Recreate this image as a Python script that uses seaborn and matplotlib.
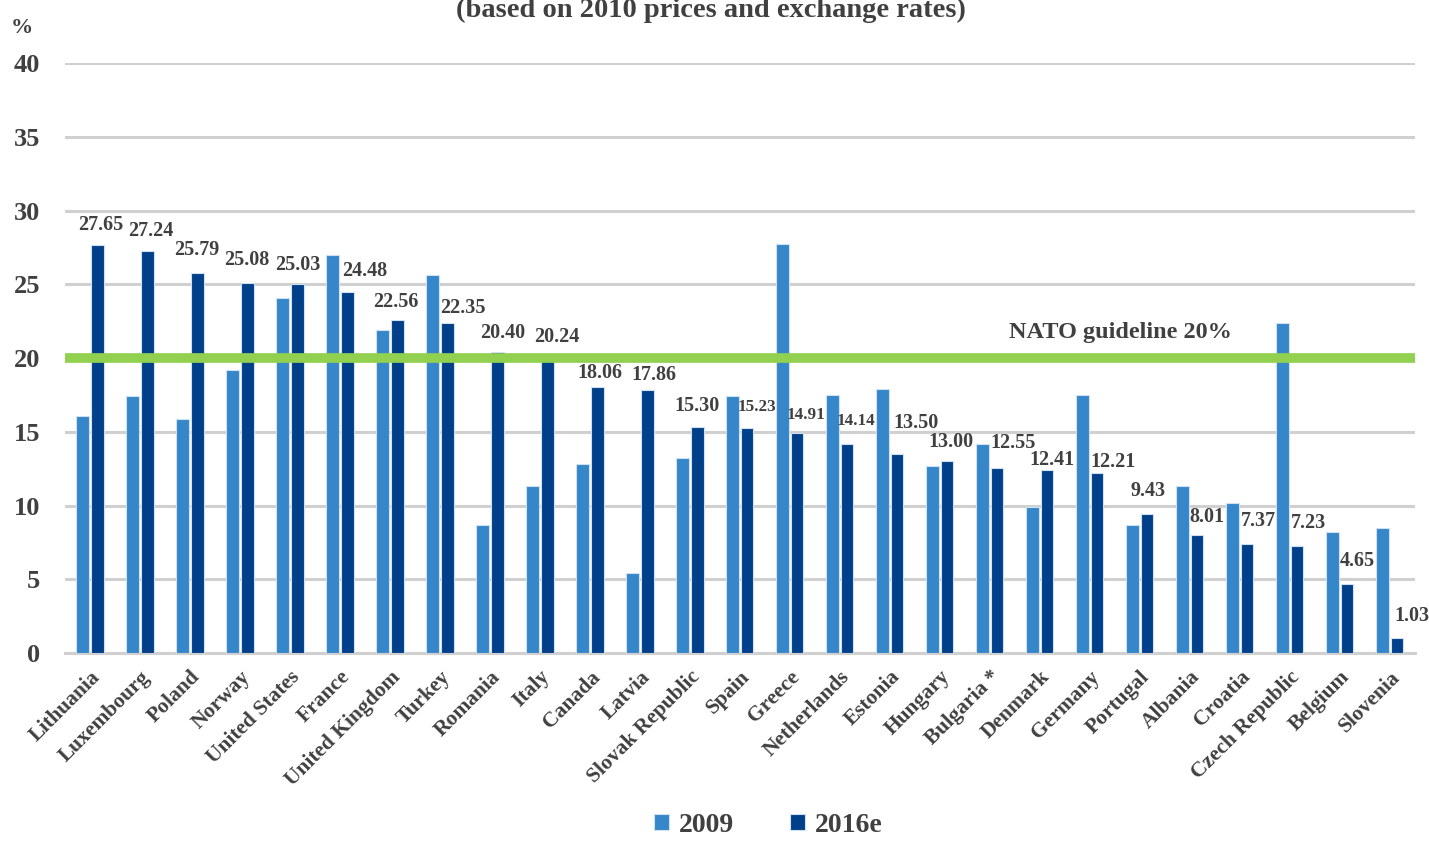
import pandas as pd
import matplotlib
matplotlib.use("Agg")
import matplotlib.pyplot as plt
import seaborn as sns

# data
countries = ["Lithuania", "Luxembourg", "Poland", "Norway", "United States", "France",
             "United Kingdom", "Turkey", "Romania", "Italy", "Canada", "Latvia",
             "Slovak Republic", "Spain", "Greece", "Netherlands", "Estonia", "Hungary",
             "Bulgaria *", "Denmark", "Germany", "Portugal", "Albania", "Croatia",
             "Czech Republic", "Belgium", "Slovenia"]
vals_2009 = [16.1, 17.4, 15.9, 19.2, 24.1, 27.0, 21.9, 25.6, 8.7, 11.3, 12.8, 5.4,
             13.2, 17.4, 27.7, 17.5, 17.9, 12.7, 14.2, 9.9, 17.5, 8.7, 11.3, 10.2,
             22.4, 8.2, 8.5]
vals_2016 = [27.65, 27.24, 25.79, 25.08, 25.03, 24.48, 22.56, 22.35, 20.40, 20.24,
             18.06, 17.86, 15.30, 15.23, 14.91, 14.14, 13.50, 13.00, 12.55, 12.41,
             12.21, 9.43, 8.01, 7.37, 7.23, 4.65, 1.03]
series = ["2009", "2016e"]
guideline = 20

# value label nudges (pixels) as laid out in the original: right shift, height above bar
label_dx = [3, 3, 0, 0, 1, 17, -1, 16, 6, 10, 3, 7, 0, 10, 9, 9, 19, 4, 16, 5, 16,
            1, 10, 11, 12, 10, 15]
label_dy = [20, 20, 23, 23, 19, 21, 18, 15, 19, 18, 14, 15, 21, 21, 18, 23, 31, 19,
            25, 10, 11, 23, 18, 23, 23, 23, 22]

df = pd.DataFrame({
    "country": countries * 2,
    "value": vals_2009 + vals_2016,
    "year": [series[0]] * len(countries) + [series[1]] * len(countries),
})

txt = "#404040"
light = "#3587CA"
dark = "#003F8A"

sns.set_style("white")
plt.rcParams["font.family"] = ["Liberation Serif", "DejaVu Serif"]
plt.rcParams["font.weight"] = "bold"

fig = plt.figure(figsize=(14.29, 8.41), dpi=100)
ax = fig.add_axes([0.0455, 0.2235, 0.9445, 0.7015])

sns.barplot(data=df, x="country", y="value", hue="year", palette=[light, dark],
            saturation=1, width=0.58, gap=0.12, edgecolor="#cfe0f0", linewidth=0.8,
            ax=ax, zorder=3)

ax.set_ylim(0, 40)
ax.set_xlim(-0.5, len(countries) - 0.5)
ax.set_yticks(range(0, 41, 5))
ax.yaxis.grid(True, color="#d0d0d0", linewidth=2.2, zorder=0)
ax.set_axisbelow(True)
for s in ["top", "right", "left"]:
    ax.spines[s].set_visible(False)
ax.spines["bottom"].set_color("#d0d0d0")
ax.spines["bottom"].set_linewidth(2.2)
ax.tick_params(axis="y", length=0, pad=18, labelsize=19, labelcolor=txt)
ax.tick_params(axis="x", length=0, pad=10, labelsize=15.5, labelcolor=txt)
for lbl in ax.get_yticklabels():
    lbl.set_fontweight("bold")
ax.set_xticks(range(len(countries)))
ax.set_xticklabels(countries, rotation=45, ha="right", rotation_mode="anchor",
                   fontweight="bold")
ax.set_xlabel("")
ax.set_ylabel("")

# NATO guideline
ax.axhline(guideline, color="#92D050", linewidth=7, zorder=4)
ax.text(0.782, guideline + 1.0, "NATO guideline 20%", transform=ax.get_yaxis_transform(),
        ha="center", va="bottom", fontsize=17.5, fontweight="bold", color=txt)

# value labels on the 2016e bars
small = {"Spain", "Greece", "Netherlands"}
for bar, v, c, dx, dy in zip(ax.containers[1], vals_2016, countries, label_dx, label_dy):
    ax.annotate(f"{v:.2f}", (bar.get_x() + bar.get_width() / 2, bar.get_height()),
                xytext=(dx * 0.72, dy * 0.72), textcoords="offset points", ha="center",
                va="center", fontsize=12.3 if c in small else 14.5, fontweight="bold",
                color=txt, zorder=5)

ax.legend(handles=ax.legend_.legend_handles, labels=series, loc="upper center",
          bbox_to_anchor=(0.521, -0.238), ncol=2, frameon=False, fontsize=20,
          handlelength=0.55, handleheight=0.55, handletextpad=0.35, columnspacing=2.0,
          labelcolor=txt, borderpad=0.2)

fig.text(0.4975, 1 - 10 / 841, "(based on 2010 prices and exchange rates)", ha="center",
         va="center", fontsize=20.5, fontweight="bold", color=txt)
fig.text(22 / 1429, 1 - 28 / 841, "%", ha="center", va="center", fontsize=16,
         fontweight="bold", color=txt)

fig.savefig("out.png", dpi=100)
